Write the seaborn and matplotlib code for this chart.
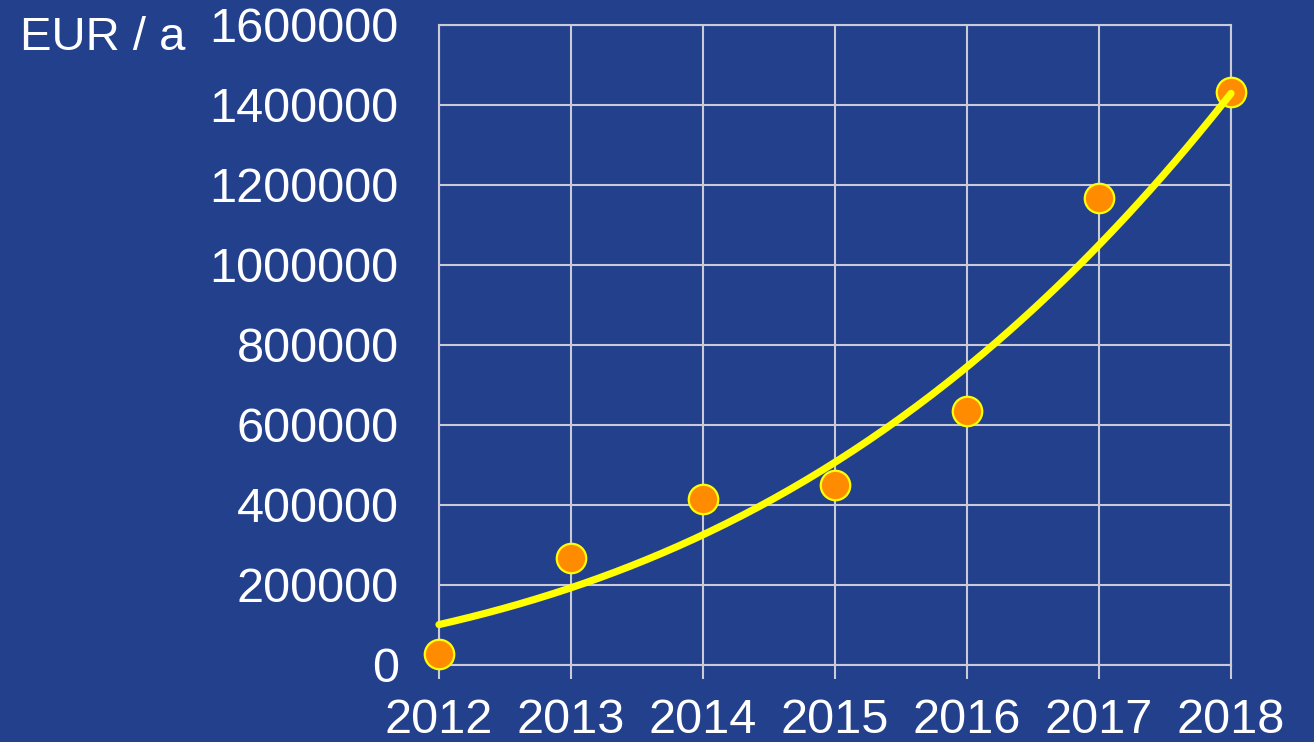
import numpy as np
import pandas as pd
import matplotlib
matplotlib.use("Agg")
import matplotlib.pyplot as plt
import seaborn as sns
from matplotlib.ticker import FuncFormatter

# --- data ---
years = [2012, 2013, 2014, 2015, 2016, 2017, 2018]
costs = [27000, 268000, 415000, 450000, 636000, 1168000, 1432000]
# trend curve values read at each year
trend = [100000, 196000, 325000, 500000, 755000, 1045000, 1430000]
y_ticks = [0, 200000, 400000, 600000, 800000, 1000000, 1200000, 1400000, 1600000]
y_label = "EUR / a"

BG = "#23408D"
GRID = "#C9CBD6"

sns.set_theme(style="whitegrid")
plt.rcParams["font.family"] = ["Liberation Sans", "DejaVu Sans"]

fig = plt.figure(figsize=(13.14, 7.42), dpi=100, facecolor=BG)
ax = fig.add_axes([439 / 1314, 1 - 665 / 742, (1231 - 439) / 1314, (665 - 25) / 742])
ax.set_facecolor(BG)

# smooth trend through the read trend values
coef = np.polyfit(np.array(years) - 2012, trend, 3)
xs = np.linspace(2012, 2018, 200)
trend_df = pd.DataFrame({"year": xs, "value": np.polyval(coef, xs - 2012)})
pts_df = pd.DataFrame({"year": years, "value": costs})

sns.scatterplot(data=pts_df, x="year", y="value", ax=ax, s=450, color="#FF8C00",
                edgecolor="#FFFF00", linewidth=1.6, zorder=3, clip_on=False)
sns.lineplot(data=trend_df, x="year", y="value", ax=ax, color="#FFFF00",
             linewidth=5.2, zorder=4, clip_on=False)

ax.set_xlim(2012, 2018)
ax.set_ylim(0, 1600000)
ax.set_xticks(years)
ax.set_yticks(y_ticks)
ax.yaxis.set_major_formatter(FuncFormatter(lambda v, p: f"{int(v)}"))

ax.grid(True, color=GRID, linewidth=1.5)
for s in ax.spines.values():
    s.set_visible(True)
    s.set_color(GRID)
    s.set_linewidth(1.5)

ax.tick_params(axis="x", colors=GRID, length=10, width=1.5, direction="out",
               labelcolor="white", labelsize=35, pad=14, bottom=True)
ax.tick_params(axis="y", length=0, labelcolor="white", labelsize=35, pad=29)
ax.set_xlabel("")
ax.set_ylabel("")

fig.text(20 / 1314, 1 - 38 / 742, y_label, color="white", fontsize=34,
         ha="left", va="center")

fig.savefig("out.png", dpi=100, facecolor=BG)
